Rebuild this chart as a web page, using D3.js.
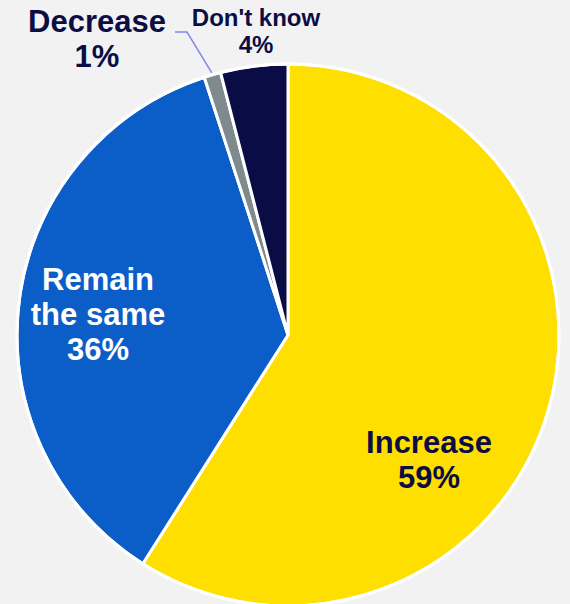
<!DOCTYPE html>
<html>
<head>
<meta charset="utf-8">
<script src="https://cdn.jsdelivr.net/npm/d3@7"></script>
<style>
  html, body { margin: 0; padding: 0; background: #f2f2f2; }
  svg { display: block; }
  text { font-family: "Liberation Sans", Arial, sans-serif; font-weight: bold; }
</style>
</head>
<body>
<svg id="chart" width="570" height="604"></svg>
<script>
// Survey answers, clockwise from 12 o'clock
const categories = ["Increase", "Remain the same", "Decrease", "Don't know"];
const shares = [59, 36, 1, 4];
const sliceColors = ["#ffdf00", "#0b5ec7", "#7f8a8e", "#0a0d45"];

const width = 570, height = 604;
const cx = 288, cy = 335, radius = 271;
const navy = "#0c0d45";

const svg = d3.select("#chart");
svg.append("rect").attr("width", width).attr("height", height).attr("fill", "#f2f2f2");

const pie = d3.pie().sort(null).value(d => d.value);
const arcs = pie(categories.map((c, i) => ({ name: c, value: shares[i], color: sliceColors[i] })));
const arc = d3.arc().innerRadius(0).outerRadius(radius);

const g = svg.append("g").attr("transform", `translate(${cx},${cy})`);

g.selectAll("path.slice")
  .data(arcs)
  .join("path")
  .attr("class", "slice")
  .attr("d", arc)
  .attr("fill", d => d.data.color)
  .attr("stroke", "#ffffff")
  .attr("stroke-width", 3)
  .attr("stroke-linejoin", "round");

// Outer white rim
g.append("circle").attr("r", radius).attr("fill", "none")
  .attr("stroke", "#ffffff").attr("stroke-width", 3);

// Multi-line label helper
function label(lines, x, y, size, lineGap, fill) {
  const t = svg.append("text")
    .attr("text-anchor", "middle")
    .attr("font-size", size)
    .attr("fill", fill);
  lines.forEach((line, i) => {
    t.append("tspan").attr("x", x).attr("y", y + i * lineGap).text(line);
  });
}

const pct = i => shares[i] + "%";

label([categories[0], pct(0)], 429, 453, 31, 35, navy);
label(["Remain", "the same", pct(1)], 98, 290, 31, 35, "#ffffff");
label([categories[2], pct(2)], 97, 32, 31, 35, navy);
label([categories[3], pct(3)], 256, 26, 24, 27, navy);

// Leader line for the thin "Decrease" slice
const dec = arcs[2];
const mid = (dec.startAngle + dec.endAngle) / 2;
const tip = [cx + Math.sin(mid) * (radius + 2), cy - Math.cos(mid) * (radius + 2)];
svg.append("path")
  .attr("d", d3.line()([[175, 32], [187, 32], tip]))
  .attr("fill", "none")
  .attr("stroke", "#8088ee")
  .attr("stroke-width", 1.5);
</script>
</body>
</html>
